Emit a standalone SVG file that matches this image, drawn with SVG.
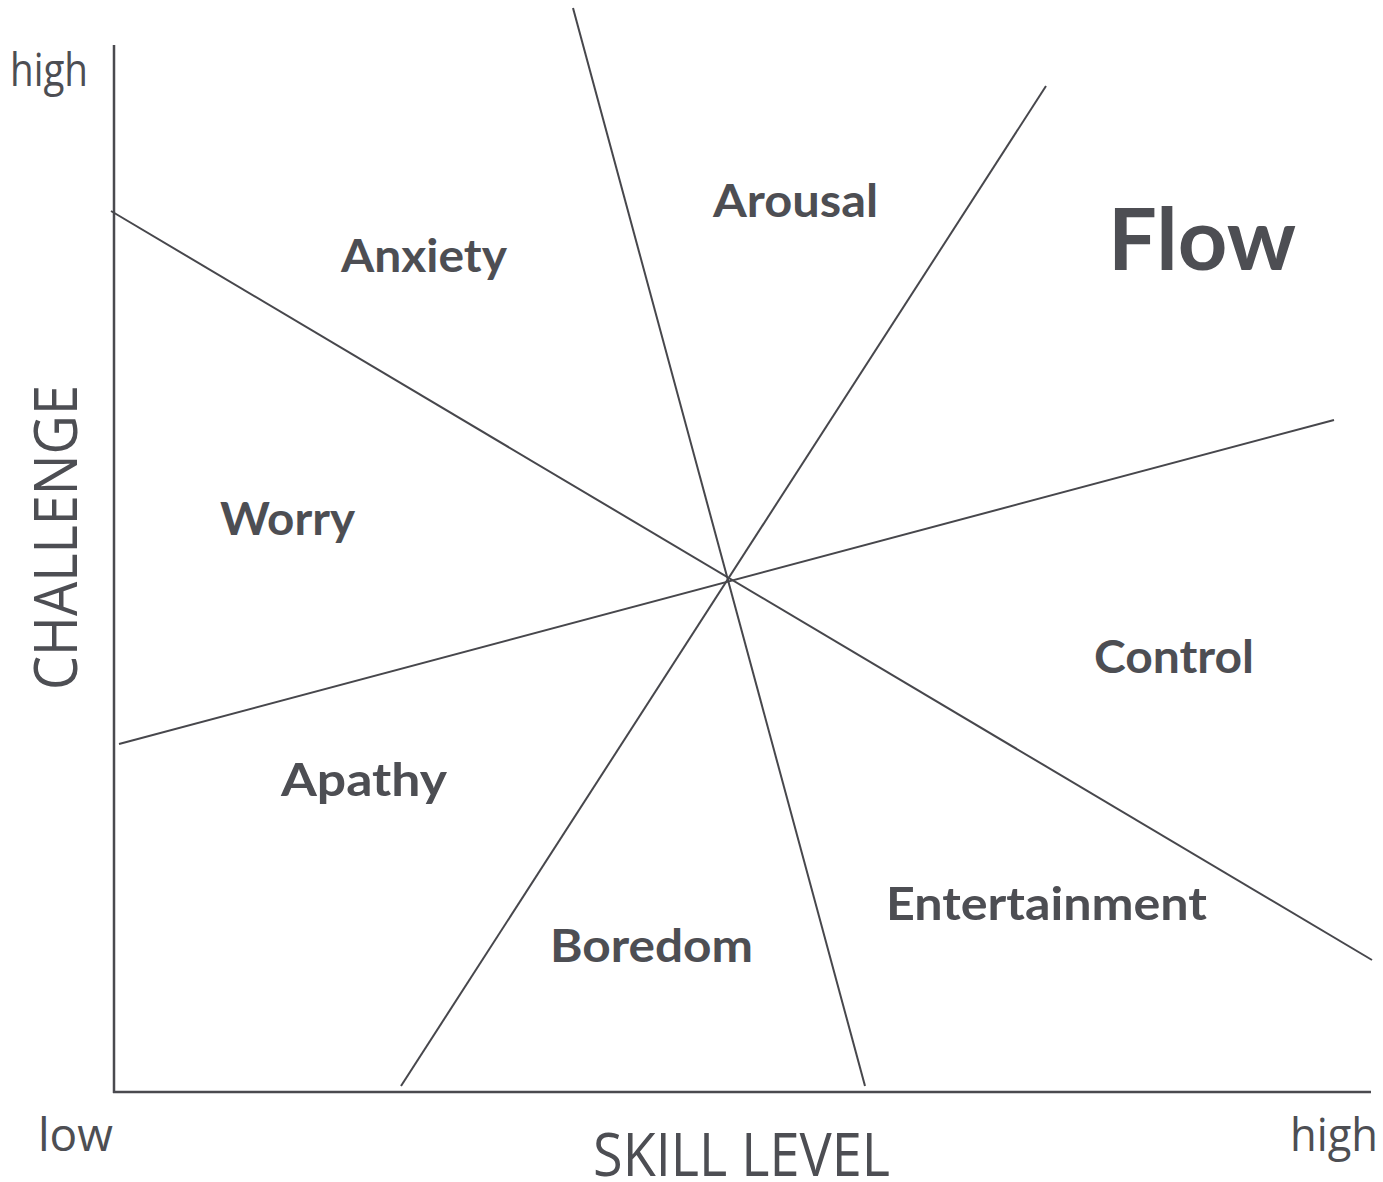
<svg xmlns="http://www.w3.org/2000/svg" width="1383" height="1182" viewBox="0 0 1383 1182">
<style>
.ln{stroke:#47474c;stroke-width:2;fill:none;stroke-linecap:butt}
.ax{stroke:#4a4a4f;stroke-width:2.5;fill:none}
.lb{font-family:Lato,"Open Sans",sans-serif;font-weight:bold;font-size:46px;fill:#4d4e53}
.axl{font-family:"Open Sans",Lato,sans-serif;font-size:46px;fill:#4d4e53}
.big{font-size:60px}
.flw{font-size:86px}
</style>
<rect width="1383" height="1182" fill="#ffffff"/>
<g id="connectors">
<line class="ax" x1="114" y1="45" x2="114" y2="1093"/>
<line class="ax" x1="113" y1="1092" x2="1371" y2="1092"/>
<line class="ln" x1="111" y1="211" x2="1372" y2="960"/>
<line class="ln" x1="573" y1="8" x2="865" y2="1086"/>
<line class="ln" x1="1046" y1="86" x2="401" y2="1086"/>
<line class="ln" x1="119" y1="744" x2="1334" y2="420"/>
</g>
<g id="axis-labels">
<text class="axl" x="10" y="86" textLength="78" lengthAdjust="spacingAndGlyphs">high</text>
<text class="axl" x="38" y="1151" textLength="75" lengthAdjust="spacingAndGlyphs">low</text>
<text class="axl" x="1290" y="1151" textLength="88" lengthAdjust="spacingAndGlyphs">high</text>
<text class="axl big" x="593" y="1176" textLength="297" lengthAdjust="spacingAndGlyphs">SKILL LEVEL</text>
<text class="axl big" transform="translate(77,690) rotate(-90)" textLength="305" lengthAdjust="spacingAndGlyphs">CHALLENGE</text>
</g>
<g id="anxiety"><text class="lb" x="341" y="272" textLength="166" lengthAdjust="spacingAndGlyphs">Anxiety</text></g>
<g id="arousal"><text class="lb" x="713" y="217" textLength="165" lengthAdjust="spacingAndGlyphs">Arousal</text></g>
<g id="flow"><text class="lb flw" x="1108" y="270" textLength="188" lengthAdjust="spacingAndGlyphs">Flow</text></g>
<g id="worry"><text class="lb" x="220" y="535" textLength="135" lengthAdjust="spacingAndGlyphs">Worry</text></g>
<g id="control"><text class="lb" x="1094" y="673" textLength="160" lengthAdjust="spacingAndGlyphs">Control</text></g>
<g id="apathy"><text class="lb" x="281" y="796" textLength="166" lengthAdjust="spacingAndGlyphs">Apathy</text></g>
<g id="entertainment"><text class="lb" x="886" y="920" textLength="321" lengthAdjust="spacingAndGlyphs">Entertainment</text></g>
<g id="boredom"><text class="lb" x="550" y="962" textLength="203" lengthAdjust="spacingAndGlyphs">Boredom</text></g>
</svg>
